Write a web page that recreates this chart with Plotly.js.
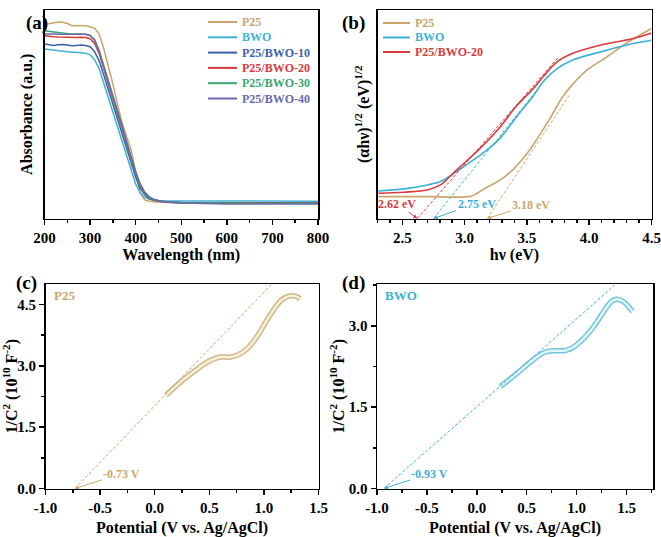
<!DOCTYPE html>
<html>
<head>
<meta charset="utf-8">
<script src="https://cdn.plot.ly/plotly-3.0.1.min.js"></script>
<style>html,body{margin:0;padding:0;background:#fff;}#chart{width:661px;height:537px;}</style>
</head>
<body>
<div id="chart"></div>
<script>
// ---------- Panel (a): UV-vis absorbance ----------
const wavelength = [200,210,220,230,240,250,260,270,280,290,300,310,320,330,340,350,360,370,380,390,400,410,420,430,440,450,470,500,550,600,650,700,750,800];
const absP25   = [0.930,0.935,0.938,0.942,0.941,0.935,0.925,0.926,0.924,0.924,0.920,0.912,0.885,0.815,0.735,0.645,0.550,0.460,0.395,0.330,0.225,0.120,0.090,0.083,0.080,0.078,0.077,0.076,0.075,0.074,0.073,0.073,0.072,0.072];
const absBWO   = [0.813,0.810,0.806,0.803,0.800,0.800,0.797,0.797,0.795,0.793,0.785,0.762,0.718,0.650,0.580,0.510,0.440,0.370,0.300,0.232,0.165,0.123,0.102,0.092,0.087,0.085,0.084,0.084,0.083,0.083,0.083,0.083,0.083,0.083];
const absPB10  = [0.837,0.832,0.830,0.833,0.835,0.832,0.828,0.830,0.832,0.830,0.824,0.800,0.755,0.688,0.618,0.548,0.478,0.408,0.338,0.268,0.198,0.145,0.114,0.096,0.087,0.083,0.079,0.077,0.076,0.075,0.075,0.075,0.075,0.075];
const absPB20  = [0.877,0.873,0.872,0.870,0.869,0.867,0.866,0.868,0.869,0.868,0.862,0.840,0.790,0.720,0.645,0.572,0.500,0.430,0.357,0.287,0.212,0.155,0.120,0.099,0.089,0.084,0.079,0.076,0.075,0.074,0.074,0.074,0.074,0.074];
const absPB30  = [0.901,0.898,0.896,0.892,0.889,0.886,0.884,0.885,0.886,0.884,0.878,0.855,0.800,0.730,0.655,0.580,0.507,0.437,0.362,0.291,0.217,0.160,0.121,0.100,0.090,0.085,0.079,0.076,0.074,0.073,0.073,0.073,0.073,0.073];
const absPB40  = [0.885,0.886,0.885,0.884,0.884,0.883,0.882,0.883,0.884,0.884,0.878,0.858,0.805,0.735,0.662,0.590,0.517,0.447,0.372,0.300,0.225,0.166,0.126,0.104,0.092,0.086,0.078,0.074,0.071,0.070,0.069,0.069,0.069,0.069];
const seriesA  = ['P25','BWO','P25/BWO-10','P25/BWO-20','P25/BWO-30','P25/BWO-40'];

// ---------- Panel (b): Tauc plot ----------
const taucP25_x  = [2.306,2.725,3.045,3.099,3.181,3.286,3.392,3.472,3.552,3.686,3.779,3.846,3.979,4.140,4.273,4.500];
const taucP25_y  = [0.105,0.105,0.106,0.121,0.150,0.185,0.237,0.290,0.355,0.481,0.577,0.629,0.710,0.774,0.831,0.911];
const taucBWO_x  = [2.306,2.512,2.701,2.805,2.888,2.941,3.101,3.262,3.422,3.552,3.633,3.739,3.859,4.086,4.353,4.500];
const taucBWO_y  = [0.132,0.142,0.161,0.177,0.207,0.228,0.294,0.371,0.492,0.589,0.658,0.718,0.758,0.798,0.839,0.855];
const taucPB20_x = [2.306,2.512,2.701,2.805,2.888,2.941,3.101,3.262,3.422,3.552,3.633,3.739,3.859,4.086,4.353,4.500];
const taucPB20_y = [0.121,0.126,0.137,0.161,0.205,0.236,0.323,0.423,0.544,0.624,0.682,0.750,0.790,0.831,0.863,0.890];
const fitP25_x  = [3.18, 3.846];  const fitP25_y  = [0, 0.597];
const fitBWO_x  = [2.75, 3.678];  const fitBWO_y  = [0, 0.689];
const fitPB20_x = [2.62, 3.753];  const fitPB20_y = [0, 0.774];
const seriesB   = ['P25','BWO','P25/BWO-20'];
const gapLabels = ['3.18 eV','2.75 eV','2.62 eV'];

// ---------- Panel (c): Mott-Schottky P25 ----------
const msP25_v = [0.103,0.255,0.406,0.513,0.604,0.695,0.771,0.847,0.923,0.999,1.075,1.151,1.227,1.287,1.333];
const msP25_c = [2.278,2.644,2.954,3.133,3.214,3.214,3.279,3.417,3.661,3.987,4.312,4.581,4.703,4.703,4.638];
const msP25_fit_v = [-0.73, 1.08];
const msP25_fit_c = [0, 5.02];

// ---------- Panel (d): Mott-Schottky BWO ----------
const msBWO_v = [0.235,0.396,0.563,0.680,0.780,0.881,0.965,1.065,1.165,1.266,1.349,1.400,1.467,1.560];
const msBWO_c = [1.880,2.113,2.370,2.511,2.541,2.541,2.603,2.756,2.970,3.246,3.448,3.490,3.448,3.264];
const msBWO_fit_v = [-0.93, 1.38];
const msBWO_fit_c = [0, 3.745];

// tick labels
const potTickVals = [-1.0,-0.5,0.0,0.5,1.0,1.5];
const potTickText = ['-1.0','-0.5','0.0','0.5','1.0','1.5'];

const C = {p25:'#CBA66C', bwo:'#3EB1D6', b10:'#3A62AC', b20:'#D83A3E', b30:'#3AA66E', b40:'#6A68AE'};
const colorsA = [C.p25, C.bwo, C.b10, C.b20, C.b30, C.b40];
const colorsB = [C.p25, C.bwo, C.b20];
const FONT = 'Liberation Serif, "Times New Roman", serif';
const W = 661, H = 537;
const px = v => v / W, py = v => 1 - v / H;

const traces = [];
const absData = [absP25, absBWO, absPB10, absPB20, absPB30, absPB40];
absData.forEach((y, i) => traces.push({x: wavelength, y: y, type:'scatter', mode:'lines', name: seriesA[i],
  line:{color:colorsA[i], width:1.5}, xaxis:'x', yaxis:'y', showlegend:false, hoverinfo:'skip'}));

const taucData = [[taucP25_x, taucP25_y], [taucBWO_x, taucBWO_y], [taucPB20_x, taucPB20_y]];
taucData.forEach((d, i) => traces.push({x:d[0], y:d[1], type:'scatter', mode:'lines', name: seriesB[i],
  line:{color:colorsB[i], width:1.6, shape:'spline'}, xaxis:'x2', yaxis:'y2', showlegend:false, hoverinfo:'skip'}));

function dashTrace(x, y, color, xa, ya){
  return {x:x, y:y, type:'scatter', mode:'lines', showlegend:false, line:{color:color, width:1, dash:'3px,2px'},
    xaxis:xa, yaxis:ya, hoverinfo:'skip'};
}
traces.push(dashTrace(fitP25_x, fitP25_y, C.p25, 'x2','y2'));
traces.push(dashTrace(fitBWO_x, fitBWO_y, C.bwo, 'x2','y2'));
traces.push(dashTrace(fitPB20_x, fitPB20_y, C.b20, 'x2','y2'));

function tube(x, y, outer, inner, xa, ya){
  return [
    {x:x, y:y, type:'scatter', mode:'lines', showlegend:false, line:{color:outer, width:5.5, shape:'spline'}, xaxis:xa, yaxis:ya, hoverinfo:'skip'},
    {x:x, y:y, type:'scatter', mode:'lines', showlegend:false, line:{color:inner, width:2.5, shape:'spline'}, xaxis:xa, yaxis:ya, hoverinfo:'skip'}
  ];
}
traces.push(...tube(msP25_v, msP25_c, '#D2B882', '#F6EFE0', 'x3','y3'));
traces.push(dashTrace(msP25_fit_v, msP25_fit_c, C.p25, 'x3','y3'));
traces.push(...tube(msBWO_v, msBWO_c, '#74C5DF', '#E2F3F9', 'x4','y4'));
traces.push(dashTrace(msBWO_fit_v, msBWO_fit_c, C.bwo, 'x4','y4'));

function axBase(){
  return {showline:true, mirror:true, linecolor:'black', linewidth:1.5, showgrid:false, zeroline:false,
    ticks:'outside', ticklen:5, tickwidth:1.5, tickcolor:'black',
    tickfont:{family:FONT, size:15, color:'black', weight:'bold'}};
}
function titleObj(t, standoff){
  return {text:t, standoff:standoff, font:{family:FONT, size:16, color:'black', weight:'bold'}};
}
const dA = [px(44.5), px(318)], dB = [px(377.5), px(651.5)], dC = [px(45.5), px(318.5)], dD = [px(377), px(653)];
const yTop = [py(218.5), py(10)], yBot = [py(488.5), py(284)];

// hand-built legends (tight row spacing as in the reference)
const shapes = [], annotations = [];
seriesA.forEach((name, i) => {
  const yy = py(22 + 15.3 * i);
  shapes.push({type:'line', xref:'paper', yref:'paper', x0:px(208), x1:px(237), y0:yy, y1:yy, line:{color:colorsA[i], width:2}});
  annotations.push({text:name, xref:'paper', yref:'paper', x:px(240), y:yy, xanchor:'left', yanchor:'middle', showarrow:false,
    font:{family:FONT, size:12, weight:'bold', color:colorsA[i]}});
});
seriesB.forEach((name, i) => {
  const yy = py(23 + 14.5 * i);
  shapes.push({type:'line', xref:'paper', yref:'paper', x0:px(383), x1:px(410), y0:yy, y1:yy, line:{color:colorsB[i], width:2}});
  annotations.push({text:name, xref:'paper', yref:'paper', x:px(413), y:yy, xanchor:'left', yanchor:'middle', showarrow:false,
    font:{family:FONT, size:12, weight:'bold', color:colorsB[i]}});
});

const panelFont = {family:FONT, size:19, weight:'bold', color:'black'};
annotations.push(
  {text:'(a)', xref:'paper', yref:'paper', x:px(24), y:py(10), showarrow:false, font:panelFont},
  {text:'(b)', xref:'paper', yref:'paper', x:px(353), y:py(10), showarrow:false, font:panelFont},
  {text:'(c)', xref:'paper', yref:'paper', x:px(14), y:py(283), showarrow:false, font:panelFont},
  {text:'(d)', xref:'paper', yref:'paper', x:px(353), y:py(283), showarrow:false, font:panelFont},
  {text:gapLabels[2], xref:'x2', yref:'y2', x:fitPB20_x[0], y:0, ax:-20, ay:-15, showarrow:true, arrowhead:2, arrowsize:0.8, arrowwidth:1, arrowcolor:C.b20,
    font:{family:FONT, size:12, weight:'bold', color:C.b20}},
  {text:gapLabels[1], xref:'x2', yref:'y2', x:fitBWO_x[0], y:0, ax:43, ay:-15, showarrow:true, arrowhead:2, arrowsize:0.8, arrowwidth:1, arrowcolor:C.bwo,
    font:{family:FONT, size:12, weight:'bold', color:C.bwo}},
  {text:gapLabels[0], xref:'x2', yref:'y2', x:fitP25_x[0], y:0, ax:44, ay:-14, showarrow:true, arrowhead:2, arrowsize:0.8, arrowwidth:1, arrowcolor:C.p25,
    font:{family:FONT, size:12, weight:'bold', color:C.p25}},
  {text:'P25', xref:'paper', yref:'paper', x:px(52), y:py(295), xanchor:'left', showarrow:false, font:{family:FONT, size:13, weight:'bold', color:C.p25}},
  {text:'BWO', xref:'paper', yref:'paper', x:px(383), y:py(295), xanchor:'left', showarrow:false, font:{family:FONT, size:13, weight:'bold', color:C.bwo}},
  {text:'-0.73 V', xref:'x3', yref:'y3', x:msP25_fit_v[0], y:0, ax:47, ay:-15, showarrow:true, arrowhead:2, arrowsize:0.8, arrowwidth:1, arrowcolor:C.p25,
    font:{family:FONT, size:12, weight:'bold', color:C.p25}},
  {text:'-0.93 V', xref:'x4', yref:'y4', x:msBWO_fit_v[0], y:0, ax:46, ay:-15, showarrow:true, arrowhead:2, arrowsize:0.8, arrowwidth:1, arrowcolor:C.bwo,
    font:{family:FONT, size:12, weight:'bold', color:C.bwo}}
);

const layout = {
  width:W, height:H, margin:{l:0,r:0,t:0,b:0}, paper_bgcolor:'white', plot_bgcolor:'white',
  font:{family:FONT, size:15, color:'black', weight:'bold'},
  showlegend:false,
  xaxis: Object.assign(axBase(), {domain:dA, anchor:'y', range:[200,800], dtick:100, tick0:0,
    minor:{dtick:50, tick0:0, ticks:'outside', ticklen:3, tickwidth:1.5, tickcolor:'black'},
    title:titleObj('Wavelength (nm)', 4)}),
  yaxis: Object.assign(axBase(), {domain:yTop, anchor:'x', range:[0,1], ticks:'', showticklabels:false,
    title:titleObj('Absorbance (a.u.)', 6)}),
  xaxis2: Object.assign(axBase(), {domain:dB, anchor:'y2', range:[2.3,4.5], dtick:0.5, tick0:0, tickformat:'.1f',
    minor:{dtick:0.1, tick0:0, ticks:'outside', ticklen:3, tickwidth:1.5, tickcolor:'black'},
    title:titleObj('hν (eV)', 4)}),
  yaxis2: Object.assign(axBase(), {domain:yTop, anchor:'x2', range:[0,1], ticks:'', showticklabels:false,
    title:titleObj('(αhν)<sup>1/2</sup> (eV)<sup>1/2</sup>', 2)}),
  xaxis3: Object.assign(axBase(), {domain:dC, anchor:'y3', range:[-1.0,1.5], tickmode:'array', tickvals:potTickVals, ticktext:potTickText,
    minor:{tickmode:'linear', dtick:0.25, tick0:0, ticks:'outside', ticklen:3, tickwidth:1.5, tickcolor:'black'},
    title:titleObj('Potential (V vs. Ag/AgCl)', 7)}),
  yaxis3: Object.assign(axBase(), {domain:yBot, anchor:'x3', range:[0,5.0], dtick:1.5, tick0:0, tickformat:'.1f',
    minor:{dtick:0.75, tick0:0, ticks:'outside', ticklen:3, tickwidth:1.5, tickcolor:'black'},
    title:titleObj('1/C<sup>2</sup> (10<sup>10</sup> F<sup>-2</sup>)', 2)}),
  xaxis4: Object.assign(axBase(), {domain:dD, anchor:'y4', range:[-1.0,1.765], tickmode:'array', tickvals:potTickVals, ticktext:potTickText,
    minor:{tickmode:'linear', dtick:0.25, tick0:0, ticks:'outside', ticklen:3, tickwidth:1.5, tickcolor:'black'},
    title:titleObj('Potential (V vs. Ag/AgCl)', 7)}),
  yaxis4: Object.assign(axBase(), {domain:yBot, anchor:'x4', range:[0,3.77], dtick:1.5, tick0:0, tickformat:'.1f',
    minor:{dtick:0.75, tick0:0, ticks:'outside', ticklen:3, tickwidth:1.5, tickcolor:'black'},
    title:titleObj('1/C<sup>2</sup> (10<sup>10</sup> F<sup>-2</sup>)', 0)}),
  shapes: shapes,
  annotations: annotations
};
Plotly.newPlot('chart', traces, layout, {staticPlot:true, displayModeBar:false});
</script>
</body>
</html>
